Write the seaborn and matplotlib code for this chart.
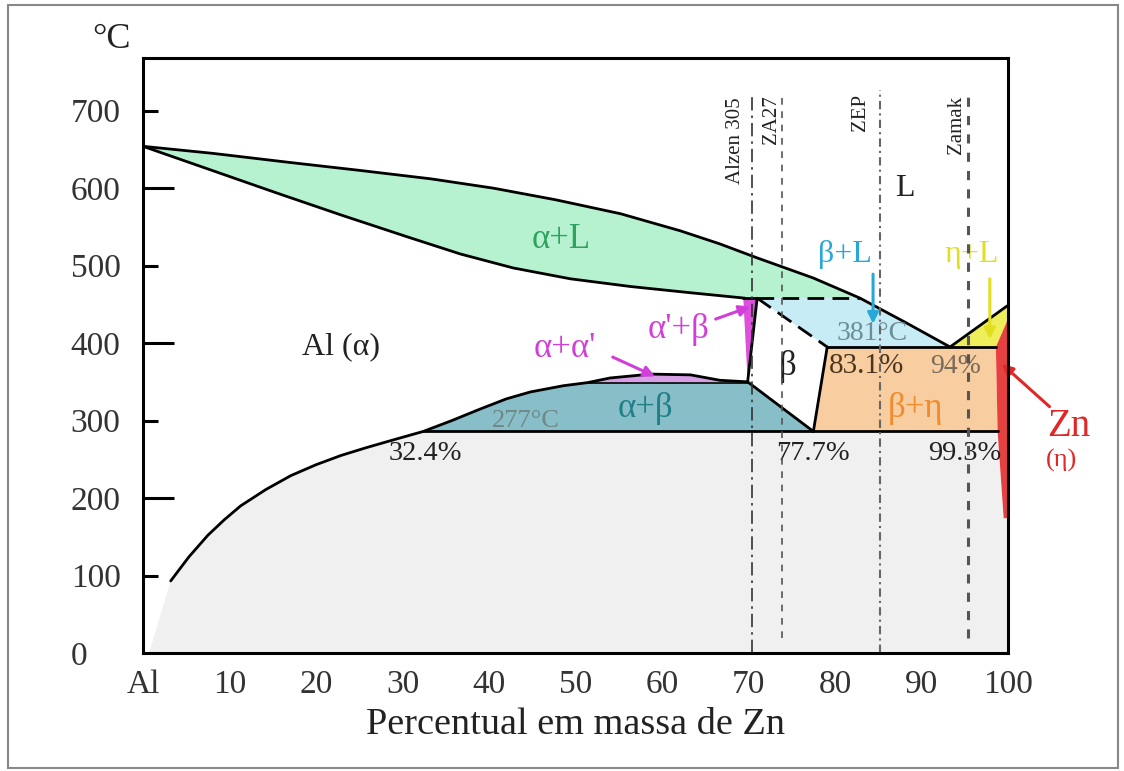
import matplotlib
matplotlib.use("Agg")
import matplotlib.pyplot as plt
from matplotlib.patches import Rectangle
import seaborn as sns

sns.set_theme(style="white")
plt.rcParams["font.family"] = ["Liberation Serif", "DejaVu Serif"]

# composition (% Zn) and temperature (C)
liquidus_x = [0, 8.0, 17.1, 25.0, 33.3, 40.5, 47.7, 55.2, 62.1, 66.7, 71.0, 77.5, 82.9, 88.1, 93.3]
liquidus_t = [654, 645, 633, 623, 612, 600, 585, 567, 545, 528, 510, 484, 458, 427, 395]
liquidus_zn_x = [93.3, 99.9]
liquidus_zn_t = [395, 448]
solidus_x = [0, 7.7, 15.4, 23.0, 30.6, 36.7, 42.8, 49.4, 56.4, 63.3, 69.6]
solidus_t = [654, 624, 594, 565, 537, 515, 497, 483, 473, 465, 458]
solvus_x = [3.2, 5.3, 7.5, 9.4, 11.3, 14.2, 17.1, 20.0, 22.9, 25.8, 28.6, 30.5, 32.4,
            35.7, 39.0, 42.0, 44.8, 48.6, 51.4, 54.0, 58.7, 63.3, 66.7, 69.9]
solvus_t = [93, 124, 152, 172, 190, 211, 229, 243, 255, 265, 274, 280, 286,
            300, 315, 328, 337, 345, 349, 355, 360, 359, 352, 350]
beta_x = [71.0, 79.1, 77.5, 69.9]
beta_t = [458, 395, 286, 350]
sliver_x = [69.4, 71.0, 69.9]
sliver_t = [458, 458, 350]
eta_x = [100, 98.6, 98.8, 99.5, 100]
eta_t = [431, 395, 286, 174, 174]
eta_l_x = [93.6, 99.9, 100, 98.6]
eta_l_t = [395, 448, 431, 395]
gray_edge_x = [0.7]
gray_edge_t = [0]

t_peritectic = 458
t_eutectic = 395
t_monotectoid = 349
t_eutectoid = 286

alloy_names = ["Alzen 305", "ZA27", "ZEP", "Zamak"]
alloy_x = [70.4, 73.9, 85.2, 95.4]
alloy_top = [723, 723, 727, 727]
alloy_bottom = [0, 19, 0, 19]

x_tick_vals = [0, 10, 20, 30, 40, 50, 60, 70, 80, 90, 100]
x_tick_labels = ["Al", "10", "20", "30", "40", "50", "60", "70", "80", "90", "100"]
y_tick_vals = [0, 100, 200, 300, 400, 500, 600, 700]

fig = plt.figure(figsize=(11.24, 7.71), dpi=100)
ax = fig.add_axes([143 / 1124, 118 / 771, 865 / 1124, 595 / 771])
ax.set_xlim(0, 100)
ax.set_ylim(2, 768)

# filled phase fields
i_eut = solvus_x.index(32.4)
i_mono = solvus_x.index(51.4)
gray_x = gray_edge_x + solvus_x[:i_eut + 1] + [98.8, 99.5, 100, 100]
gray_t = gray_edge_t + solvus_t[:i_eut + 1] + [t_eutectoid, 174, 174, 0]
ax.fill(gray_x, gray_t, color="#f0f0f0", lw=0, zorder=1)

i_per = liquidus_x.index(82.9)
ax.fill(liquidus_x[:i_per + 1] + solidus_x[::-1],
        liquidus_t[:i_per + 1] + solidus_t[::-1], color="#b7f2d0", lw=0, zorder=1)
ax.fill([71.0] + liquidus_x[i_per:] + [79.1],
        [t_peritectic] + liquidus_t[i_per:] + [t_eutectic], color="#c8ecf5", lw=0, zorder=1)
ax.fill(solvus_x[i_eut:i_mono + 1] + [69.9, 77.5],
        solvus_t[i_eut:i_mono + 1] + [t_monotectoid, t_eutectoid], color="#87bec8", lw=0, zorder=1)
ax.fill(solvus_x[i_mono:], solvus_t[i_mono:], color="#d7a0e6", lw=0, zorder=1)
ax.fill([79.1, 98.6, 98.8, 77.5], [t_eutectic, t_eutectic, t_eutectoid, t_eutectoid],
        color="#f8cda0", lw=0, zorder=1)
ax.fill(sliver_x, sliver_t, color="#dc50dc", lw=0, zorder=1)
ax.fill(eta_l_x, eta_l_t, color="#eeee5a", lw=0, zorder=1)
ax.fill(eta_x, eta_t, color="#e64040", lw=0, zorder=1)

# phase boundaries
kw = dict(sort=False, estimator=None, color="black", lw=2, ax=ax, zorder=3)
sns.lineplot(x=liquidus_x, y=liquidus_t, **kw)
sns.lineplot(x=liquidus_zn_x, y=liquidus_zn_t, **kw)
sns.lineplot(x=solidus_x, y=solidus_t, **kw)
sns.lineplot(x=solvus_x, y=solvus_t, **kw)
sns.lineplot(x=[51.4, 69.9], y=[t_monotectoid, t_monotectoid], sort=False, estimator=None,
             color="black", lw=1.2, ax=ax, zorder=3)
sns.lineplot(x=[beta_x[0], beta_x[3], beta_x[2]], y=[beta_t[0], beta_t[3], beta_t[2]], **kw)
sns.lineplot(x=[beta_x[1], beta_x[2]], y=[beta_t[1], beta_t[2]], **kw)
sns.lineplot(x=[69.4, 71.0], y=[t_peritectic, t_peritectic], **kw)
sns.lineplot(x=[79.1, 98.6], y=[t_eutectic, t_eutectic], **kw)
sns.lineplot(x=[32.4, 98.8], y=[t_eutectoid, t_eutectoid], **kw)
ax.plot([71.0, 82.9], [t_peritectic, t_peritectic], color="black", lw=2,
        dashes=(6, 3), zorder=3)
ax.plot([71.0, 79.1], [t_peritectic, t_eutectic], color="black", lw=2,
        dashes=(6, 3), zorder=3)

# alloy composition lines
styles = [dict(color="#333333", lw=1.2, dashes=(8, 3, 1.5, 3)),
          dict(color="#555555", lw=1.2, dashes=(4, 4)),
          dict(color="#666666", lw=1.5, dashes=(4, 2, 1, 2)),
          dict(color="#555555", lw=2.2, dashes=(3, 3))]
label_dx = [-1.9, -1.2, -2.3, -1.4]
label_t = [661, 689, 698, 682]
for name, x, top, bot, st, dx, lt in zip(alloy_names, alloy_x, alloy_top, alloy_bottom,
                                        styles, label_dx, label_t):
    ax.plot([x, x], [bot, top], zorder=4, **st)
    ax.text(x + dx, lt, name, rotation=90, ha="center", va="center",
            fontsize=15, color="#222222", zorder=5)

# region labels
fs = 25
ax.text(22.9, 395, "Al (α)", ha="center", va="center", fontsize=23, color="#222222")
ax.text(48.3, 534, "α+L", ha="center", va="center", fontsize=fs, color="#2ea35f")
ax.text(88.1, 599, "L", ha="center", va="center", fontsize=23, color="#222222")
ax.text(81.2, 515, "β+L", ha="center", va="center", fontsize=23, color="#28a8d8")
ax.text(95.8, 515, "η+L", ha="center", va="center", fontsize=23, color="#e0e020")
ax.text(61.9, 418, "α'+β", ha="center", va="center", fontsize=fs, color="#d040d8")
ax.text(48.8, 393, "α+α'", ha="center", va="center", fontsize=fs, color="#d040d8")
ax.text(74.5, 370, "β", ha="center", va="center", fontsize=fs, color="#222222")
ax.text(84.3, 412, "381°C", ha="center", va="center", fontsize=20, color="#6b8e9b")
ax.text(83.6, 370, "83.1%", ha="center", va="center", fontsize=21, color="#4a3520")
ax.text(93.9, 370, "94%", ha="center", va="center", fontsize=20, color="#7a6a5a")
ax.text(89.3, 315, "β+η", ha="center", va="center", fontsize=fs, color="#f08c30")
ax.text(58.1, 315, "α+β", ha="center", va="center", fontsize=fs, color="#1f7f86")
ax.text(44.2, 300, "277°C", ha="center", va="center", fontsize=19, color="#6f8787")
ax.text(32.7, 257, "32.4%", ha="center", va="center", fontsize=20.5, color="#222222")
ax.text(77.5, 257, "77.7%", ha="center", va="center", fontsize=20.5, color="#222222")
ax.text(95.0, 257, "99.3%", ha="center", va="center", fontsize=20.5, color="#222222")
ax.text(107.0, 292, "Zn", ha="center", va="center", fontsize=28, color="#e02828")
ax.text(106.2, 248, "(η)", ha="center", va="center", fontsize=19, color="#e02828")

arrows = [((84.4, 489), (84.4, 425), "#28a8d8"),
          ((97.9, 483), (97.9, 405), "#e0e020"),
          ((66.2, 431), (70.2, 447), "#d040d8"),
          ((54.3, 382), (59.2, 357), "#d040d8"),
          ((104.8, 318), (99.3, 373), "#e02828")]
for start, end, col in arrows:
    ax.annotate("", xy=end, xytext=start, annotation_clip=False, zorder=6,
                arrowprops=dict(arrowstyle="-|>", lw=2.2, color=col, mutation_scale=16,
                                shrinkA=0, shrinkB=0))

# axes, ticks
ax.set_xticks(x_tick_vals)
ax.set_xticklabels(x_tick_labels)
ax.set_yticks(y_tick_vals)
ax.set_yticklabels([str(v) for v in y_tick_vals])
ax.tick_params(axis="both", direction="in", width=2.2, color="black",
               labelsize=24, labelcolor="#333333", bottom=True, left=True)
ax.tick_params(axis="x", pad=12)
ax.tick_params(axis="y", pad=52)
for lab in ax.get_yticklabels():
    lab.set_horizontalalignment("left")
for v, t in zip(x_tick_vals, ax.xaxis.get_major_ticks()):
    t.tick1line.set_markersize(0 if v in (0, 100) else (19 if v % 20 == 0 else 11))
for v, t in zip(y_tick_vals, ax.yaxis.get_major_ticks()):
    t.tick1line.set_markersize(0 if v == 0 else (22 if v % 200 == 0 else 11))
for sp in ax.spines.values():
    sp.set_color("black")
    sp.set_linewidth(2.2)
    sp.set_zorder(7)

ax.set_xlabel("Percentual em massa de Zn", fontsize=27.5, color="#222222", va="top")
ax.xaxis.set_label_coords(0.5, -0.092)
fig.text(112 / 1124, 1 - 40 / 771, "°C", ha="center", va="center", fontsize=26, color="#222222")

fig.patches.append(Rectangle((8 / 1124, 3 / 771), 1110 / 1124, 763 / 771,
                             transform=fig.transFigure, fill=False, ec="#888888", lw=1.5))

fig.savefig("out.png", dpi=100)
